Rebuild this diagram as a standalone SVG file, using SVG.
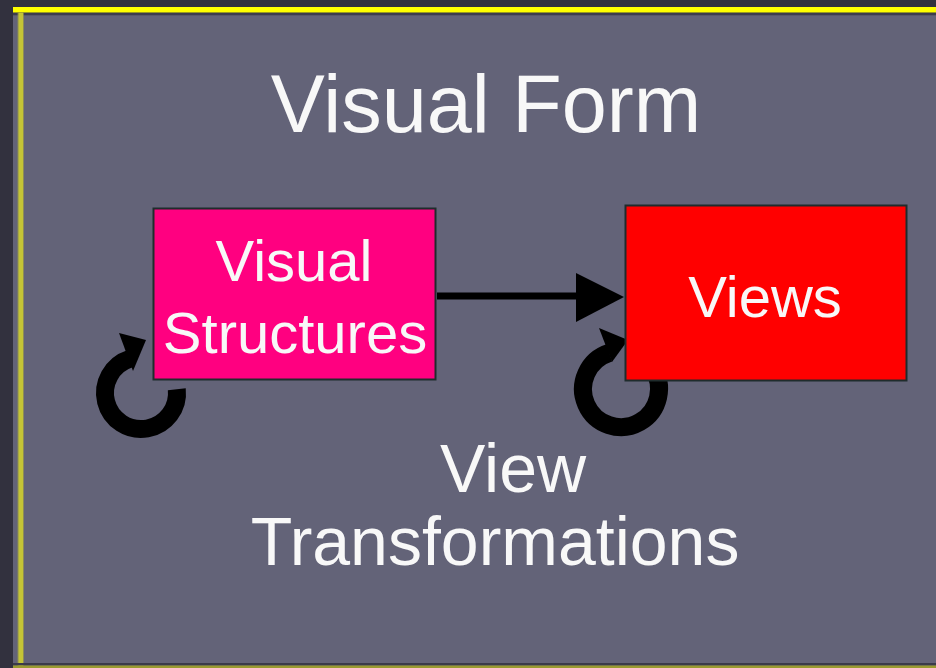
<svg xmlns="http://www.w3.org/2000/svg" width="936" height="668" viewBox="0 0 936 668">
  <style>
    .lbl { font-family: "Liberation Sans", Arial, sans-serif; fill: #f8f8f8; text-anchor: middle; }
    .box { stroke: #1f2c2c; stroke-width: 2; }
    .loop { fill: none; stroke: #000; stroke-width: 18; }
    .head { fill: #000; }
  </style>
  <!-- background and frame -->
  <rect x="0" y="0" width="936" height="668" fill="#32313e"/>
  <rect x="13" y="13" width="923" height="655" fill="#636378"/>
  <rect x="13" y="7" width="923" height="5.7" fill="#ffff00"/>
  <rect x="13" y="12.7" width="923" height="2.6" fill="#3c3c4c"/>
  <rect x="17.5" y="12.7" width="6.5" height="656" fill="#a8a840" opacity="0.6"/>
  <rect x="18.5" y="12.7" width="4.5" height="656" fill="#c4c436"/>
  <rect x="13" y="663" width="923" height="2.5" fill="#3a3a4a"/>
  <rect x="13" y="665.5" width="923" height="2.5" fill="#9a9a30"/>

  <text class="lbl" x="486" y="132" font-size="81">Visual Form</text>

  <g id="connectors">
    <!-- main arrow -->
    <line x1="437" y1="296" x2="580" y2="296" stroke="#000" stroke-width="7"/>
    <polygon class="head" points="576,273 624,297 576,322"/>
    <!-- self loop on Visual Structures -->
    <path class="loop" d="M176.8,389.2 A36,36 0 1 1 129.9,358.8"/>
    <polygon class="head" points="119,333 146,340 133,371"/>
    <!-- self loop on Views -->
    <path class="loop" d="M652.1,367.2 A38,38 0 1 1 609.3,352.9"/>
    <polygon class="head" points="599,328 628,340 612,362"/>
  </g>

  <g id="node-visual-structures">
    <rect class="box" x="153.5" y="208.5" width="282" height="171" fill="#ff0080"/>
    <text class="lbl" x="294" y="281" font-size="58">Visual</text>
    <text class="lbl" x="295" y="353" font-size="58">Structures</text>
  </g>

  <g id="node-views">
    <rect class="box" x="625.5" y="205.5" width="281" height="175" fill="#ff0000"/>
    <text class="lbl" x="765" y="317" font-size="58">Views</text>
  </g>

  <g id="label-view-transformations">
    <text class="lbl" x="513" y="492" font-size="68">View</text>
    <text class="lbl" x="495" y="565" font-size="68">Transformations</text>
  </g>
</svg>
